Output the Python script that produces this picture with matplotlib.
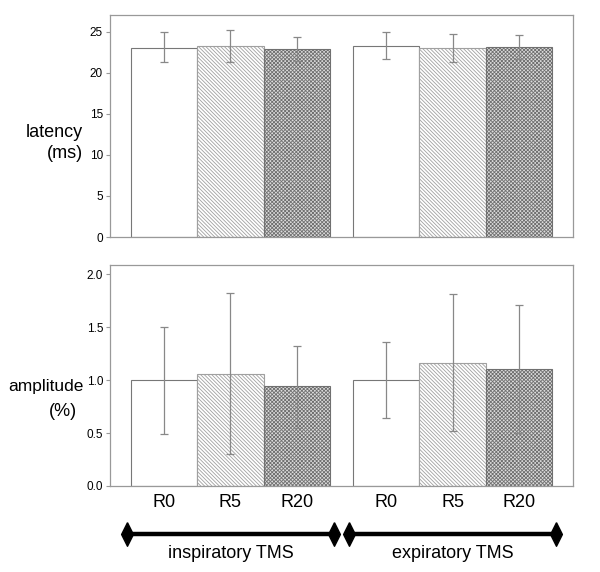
import numpy as np
import matplotlib
matplotlib.use('Agg')
import matplotlib.pyplot as plt
import matplotlib.transforms as mtransforms

plt.rcParams['font.family'] = ['Liberation Sans', 'DejaVu Sans']
plt.rcParams['hatch.linewidth'] = 0.6

conditions = ['R0', 'R5', 'R20', 'R0', 'R5', 'R20']
groups = ['inspiratory TMS', 'expiratory TMS']

# latency (ms): mean, lower / upper error ends
latency = [23.1, 23.3, 22.9, 23.3, 23.1, 23.2]
latency_lo = [21.3, 21.3, 21.5, 21.7, 21.3, 21.7]
latency_hi = [25.0, 25.3, 24.35, 24.95, 24.8, 24.6]

# amplitude (%)
amplitude = [1.0, 1.054, 0.94, 1.0, 1.163, 1.10]
amplitude_lo = [0.49, 0.30, 0.55, 0.64, 0.515, 0.50]
amplitude_hi = [1.50, 1.82, 1.32, 1.356, 1.81, 1.71]

x = np.array([0, 1, 2, 3.34, 4.34, 5.34])
hatches = ['', '\\' * 9, 'x' * 9]
faces = ['white', 'white', '#dcdcdc']
edges = ['#777777', '#a0a0a0', '#707070']

fig = plt.figure(figsize=(6.0, 5.72), dpi=100)
ax1 = fig.add_axes([110/600, 1-237/572, 463/600, 222/572])
ax2 = fig.add_axes([110/600, 1-486/572, 463/600, 221/572])


def draw(ax, vals, lo, hi, ylim, ticks, ticklabels):
    for i in range(6):
        k = i % 3
        ax.bar(x[i], vals[i], width=1.0, color=faces[k], hatch=hatches[k],
               edgecolor=edges[k], linewidth=0.8, zorder=2)
    err = [np.array(vals) - np.array(lo), np.array(hi) - np.array(vals)]
    ax.errorbar(x, vals, yerr=err, fmt='none', ecolor='#888888',
                elinewidth=0.9, capsize=3, capthick=0.9, zorder=3)
    ax.set_xlim(-0.81, 6.15)
    ax.set_ylim(*ylim)
    ax.set_yticks(ticks)
    ax.set_yticklabels(ticklabels, fontsize=8.5)
    for s in ax.spines.values():
        s.set_color('#999999')
        s.set_linewidth(0.9)
    ax.tick_params(axis='y', colors='#999999', labelcolor='black',
                   length=3, width=0.8, pad=2)


draw(ax1, latency, latency_lo, latency_hi, (0, 27.07),
     [0, 5, 10, 15, 20, 25], ['0', '5', '10', '15', '20', '25'])
ax1.set_xticks([])

draw(ax2, amplitude, amplitude_lo, amplitude_hi, (0, 2.085),
     [0, 0.5, 1.0, 1.5, 2.0], ['0.0', '0.5', '1.0', '1.5', '2.0'])
ax2.set_xticks(x)
ax2.set_xticklabels(conditions, fontsize=13)
ax2.tick_params(axis='x', length=0, pad=6)

# y labels, horizontal, left of the tick labels
fig.text(83/600, 1-132/572, 'latency', fontsize=13, ha='right', va='center')
fig.text(83/600, 1-153/572, '(ms)', fontsize=13, ha='right', va='center')
fig.text(84/600, 1-387/572, 'amplitude', fontsize=12.5, ha='right', va='center')
fig.text(63/600, 1-411/572, '(%)', fontsize=13, ha='center', va='center')

# group brackets below the x axis
trans = mtransforms.blended_transform_factory(ax2.transData, ax2.transAxes)
diamond = [(0, 1), (0.5, 0), (0, -1), (-0.5, 0), (0, 1)]
for g, name in enumerate(groups):
    c = x[g*3 + 1]
    ax2.plot([c - 1.56, c + 1.56], [-0.217, -0.217], color='black', lw=3.2,
             marker=diamond, markersize=17, transform=trans, clip_on=False)
    ax2.text(c, -0.305, name, transform=trans, fontsize=13,
             ha='center', va='center')

plt.savefig('out.png', dpi=100)
